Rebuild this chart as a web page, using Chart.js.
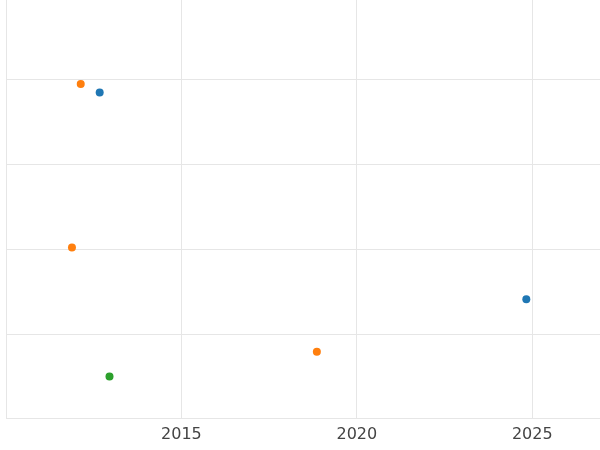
<!DOCTYPE html>
<html>
<head>
<meta charset="utf-8">
<script src="https://cdn.jsdelivr.net/npm/chart.js@4"></script>
<style>
  html, body { margin: 0; padding: 0; background: #fff; }
  #wrap { width: 600px; height: 450px; }
</style>
</head>
<body>
<div id="wrap"><canvas id="c"></canvas></div>
<script>
const xTicks = [2010, 2015, 2020, 2025];
const yTicks = [0, 1, 2, 3, 4];
const blueX = [2012.67, 2024.83];
const blueY = [3.85, 1.41];
const orangeX = [2012.13, 2011.88, 2018.86];
const orangeY = [3.95, 2.02, 0.79];
const greenX = [2012.95];
const greenY = [0.50];

const pts = (xs, ys) => xs.map((x, i) => ({ x: x, y: ys[i] }));

new Chart(document.getElementById('c'), {
    type: 'scatter',
    data: {
        datasets: [
            { data: pts(blueX, blueY), backgroundColor: '#1f77b4', borderColor: '#1f77b4' },
            { data: pts(orangeX, orangeY), backgroundColor: '#ff7f0e', borderColor: '#ff7f0e' },
            { data: pts(greenX, greenY), backgroundColor: '#2ca02c', borderColor: '#2ca02c' }
        ]
    },
    options: {
        responsive: true,
        maintainAspectRatio: false,
        animation: false,
        layout: { autoPadding: false, padding: { left: 4, right: 0, top: 0, bottom: 0 } },
        elements: { point: { radius: 4, hoverRadius: 4, borderWidth: 0 } },
        plugins: { legend: { display: false }, tooltip: { enabled: false } },
        scales: {
            x: {
                type: 'linear',
                min: 2010,
                max: 2026.93,
                afterBuildTicks: axis => { axis.ticks = xTicks.map(v => ({ value: v })); },
                ticks: {
                    callback: v => v === 2010 ? '' : String(v),
                    color: '#444',
                    font: { family: 'DejaVu Sans', size: 16 },
                    padding: 6
                },
                grid: { color: '#e6e6e6', drawTicks: false },
                border: { display: false }
            },
            y: {
                min: 0,
                max: 4.94,
                afterBuildTicks: axis => { axis.ticks = yTicks.map(v => ({ value: v })); },
                ticks: { display: false },
                grid: { color: '#e6e6e6', drawTicks: false },
                border: { display: false }
            }
        }
    }
});
</script>
</body>
</html>
